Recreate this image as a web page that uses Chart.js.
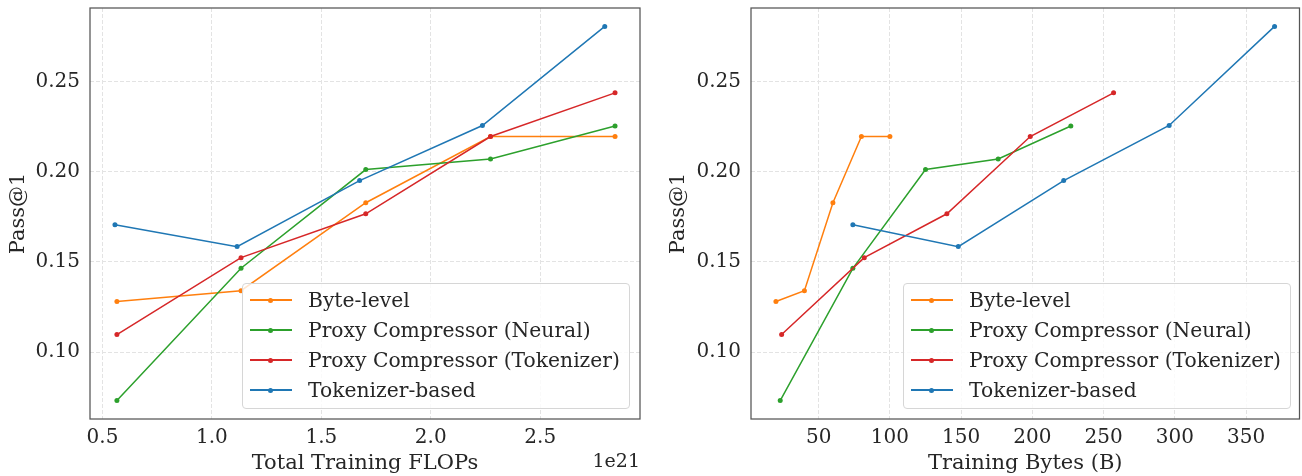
<!DOCTYPE html>
<html>
<head>
<meta charset="utf-8">
<script src="https://cdn.jsdelivr.net/npm/chart.js@4"></script>
<style>
  body { margin: 0; background: #fff; }
  #wrap { position: relative; width: 1302px; height: 476px; }
  canvas { position: absolute; top: 0; }
  #flopsChart { left: 0; }
  #bytesChart { left: 650px; }
  .legend {
    position: absolute; top: 283px; width: 388px; height: 126px;
    box-sizing: border-box; padding-top: 1px;
    background: rgba(255,255,255,0.8);
    border: 1px solid #d6d6d6; border-radius: 4px;
    font-family: 'DejaVu Serif'; font-size: 20.3px; color: #262626;
  }
  .legend .row { position: relative; height: 30px; line-height: 30px; padding-left: 65px; white-space: nowrap; }
  .legend .line { position: absolute; left: 7px; top: 14px; width: 42px; height: 2px; }
  .legend .dot { position: absolute; left: 18px; top: -1.5px; width: 5px; height: 5px; border-radius: 50%; }
</style>
</head>
<body>
<div id="wrap">
  <canvas id="flopsChart" width="650" height="476"></canvas>
  <canvas id="bytesChart" width="652" height="476"></canvas>
  <div class="legend" id="legend1" style="left:242px"></div>
  <div class="legend" id="legend2" style="left:903px"></div>
</div>
<script>
'use strict';

// series names and colours
const seriesNames = ['Byte-level', 'Proxy Compressor (Neural)', 'Proxy Compressor (Tokenizer)', 'Tokenizer-based'];
const seriesColors = ['#ff7f0e', '#2ca02c', '#d62728', '#1f77b4'];

// total training FLOPs (x 1e21)
const flopsByte = [0.566, 1.133, 1.703, 2.273, 2.842];
const flopsNeural = [0.566, 1.133, 1.703, 2.273, 2.842];
const flopsTokProxy = [0.566, 1.133, 1.703, 2.273, 2.842];
const flopsTokenizer = [0.557, 1.115, 1.675, 2.236, 2.795];

// training bytes (B)
const bytesByte = [20, 40, 60, 80, 100];
const bytesNeural = [23, 74, 125, 176, 227];
const bytesTokProxy = [24, 82, 140, 198.5, 257];
const bytesTokenizer = [74, 148, 222, 296, 370];

// pass@1
const passByte = [0.1281, 0.1341, 0.1828, 0.2195, 0.2195];
const passNeural = [0.0732, 0.1465, 0.2012, 0.2071, 0.2253];
const passTokProxy = [0.1098, 0.1524, 0.1767, 0.2195, 0.2437];
const passTokenizer = [0.1706, 0.1585, 0.1951, 0.2256, 0.2805];

// ticks
const flopsTicks = [0.5, 1.0, 1.5, 2.0, 2.5];
const bytesTicks = [50, 100, 150, 200, 250, 300, 350];
const passTicks = [0.10, 0.15, 0.20, 0.25];
const flopsOffsetText = '1e21';

Chart.defaults.font.family = 'DejaVu Serif';
Chart.defaults.color = '#262626';

function makePoints(xs, ys) {
  return xs.map(function(x, i) { return { x: x, y: ys[i] }; });
}

function makeDatasets(xsList) {
  const ysList = [passByte, passNeural, passTokProxy, passTokenizer];
  return seriesNames.map(function(name, i) {
    return {
      label: name,
      data: makePoints(xsList[i], ysList[i]),
      borderColor: seriesColors[i],
      backgroundColor: seriesColors[i],
      borderWidth: 1.5,
      pointRadius: 2.5,
      pointBorderWidth: 0,
      pointHoverRadius: 2.5,
      tension: 0,
      order: 4 - i,
    };
  });
}

const frame = {
  id: 'frame',
  afterDraw(chart) {
    const a = chart.chartArea;
    const ctx = chart.ctx;
    ctx.save();
    ctx.strokeStyle = '#555';
    ctx.lineWidth = 1.25;
    ctx.strokeRect(a.left, a.top, a.right - a.left, a.bottom - a.top);
    ctx.restore();
  }
};

const offsetText = {
  id: 'offsetText',
  afterDraw(chart) {
    const ctx = chart.ctx;
    ctx.save();
    ctx.font = '19px "DejaVu Serif"';
    ctx.fillStyle = '#262626';
    ctx.textAlign = 'right';
    ctx.textBaseline = 'middle';
    ctx.fillText(flopsOffsetText, chart.chartArea.right, 462);
    ctx.restore();
  }
};

const gridStyle = { color: '#e3e3e3', lineWidth: 1, drawTicks: false };
// border.dash also dashes the grid lines in v4
const borderStyle = { display: false, dash: [4, 2] };

function makeOptions(o) {
  return {
    responsive: false,
    animation: false,
    events: [],
    layout: { padding: { top: 8, right: o.padRight, left: 0, bottom: 0 } },
    plugins: { legend: { display: false }, tooltip: { enabled: false } },
    scales: {
      x: {
        type: 'linear',
        min: o.xMin, max: o.xMax,
        grid: gridStyle,
        border: borderStyle,
        afterBuildTicks: function(s) { s.ticks = o.xTicks.map(function(v) { return { value: v }; }); },
        afterFit: function(s) { s.height = 57; s.paddingLeft = 0; s.paddingRight = 0; },
        ticks: {
          padding: 7,
          font: { size: 20 },
          callback: o.xFormat,
        },
        title: { display: true, text: o.xTitle, font: { size: 21 }, padding: { top: 0, bottom: 0 } },
      },
      y: {
        type: 'linear',
        min: 0.063, max: 0.2907,
        grid: gridStyle,
        border: borderStyle,
        afterBuildTicks: function(s) { s.ticks = passTicks.map(function(v) { return { value: v }; }); },
        afterFit: function(s) { s.width = o.yWidth; s.paddingTop = 0; s.paddingBottom = 0; },
        ticks: {
          padding: 10,
          font: { size: 20 },
          callback: function(v) { return v.toFixed(2); },
        },
        title: { display: true, text: 'Pass@1', font: { size: 21 }, padding: { top: o.yTitlePad, bottom: 0 } },
      },
    },
  };
}

new Chart(document.getElementById('flopsChart').getContext('2d'), {
  type: 'line',
  data: { datasets: makeDatasets([flopsByte, flopsNeural, flopsTokProxy, flopsTokenizer]) },
  options: makeOptions({
    padRight: 10, yWidth: 90, yTitlePad: 6,
    xMin: 0.443, xMax: 2.956, xTicks: flopsTicks,
    xFormat: function(v) { return v.toFixed(1); },
    xTitle: 'Total Training FLOPs',
  }),
  plugins: [frame, offsetText],
});

new Chart(document.getElementById('bytesChart').getContext('2d'), {
  type: 'line',
  data: { datasets: makeDatasets([bytesByte, bytesNeural, bytesTokProxy, bytesTokenizer]) },
  options: makeOptions({
    padRight: 1, yWidth: 101, yTitlePad: 16,
    xMin: 2.5, xMax: 387.5, xTicks: bytesTicks,
    xFormat: function(v) { return String(v); },
    xTitle: 'Training Bytes (B)',
  }),
  plugins: [frame],
});

// legends (one inside each plot)
['legend1', 'legend2'].forEach(function(id) {
  const box = document.getElementById(id);
  seriesNames.forEach(function(name, i) {
    const row = document.createElement('div');
    row.className = 'row';
    row.innerHTML = '<div class="line" style="background:' + seriesColors[i] + '">' +
      '<div class="dot" style="background:' + seriesColors[i] + '"></div></div>';
    row.appendChild(document.createTextNode(name));
    box.appendChild(row);
  });
});
</script>
</body>
</html>
